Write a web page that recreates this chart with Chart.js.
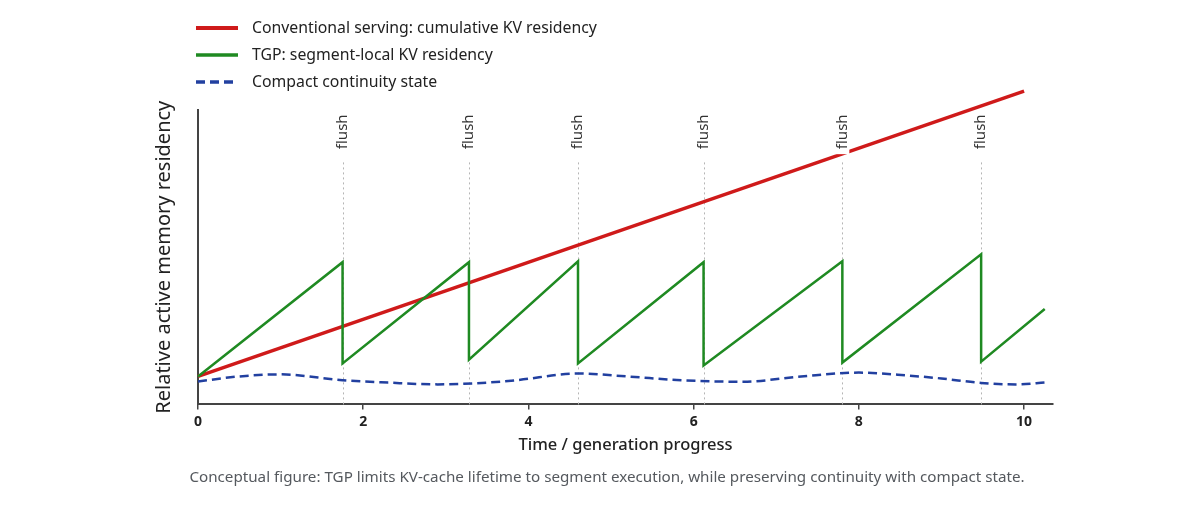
<!DOCTYPE html>
<html lang="en">
<head>
    <meta charset="UTF-8">
    <title>TGP memory residency</title>
    <script src="https://cdn.jsdelivr.net/npm/chart.js"></script>
    <style>
        html, body { margin: 0; padding: 0; background: #fff; }
        #wrap { position: relative; width: 1200px; height: 520px; }
    </style>
</head>
<body>
    <div id="wrap"><canvas id="memChart" width="1200" height="520"></canvas></div>
    <script>
        // values
        const xTicks = [0, 2, 4, 6, 8, 10];
        const flushX = [1.75, 3.28, 4.6, 6.12, 7.8, 9.48];

        const convX = [0, 10];
        const convY = [0.095, 1.064];

        const tgpX = [0, 1.75, 1.75, 3.28, 3.28, 4.6, 4.6, 6.12, 6.12, 7.8, 7.8, 9.48, 9.48, 10.25];
        const tgpY = [0.095, 0.483, 0.139, 0.483, 0.152, 0.486, 0.139, 0.483, 0.132, 0.486, 0.142, 0.510, 0.145, 0.324];

        const stateX = [0, 0.5, 1.0, 1.75, 2.3, 2.9, 3.5, 3.85, 4.6, 5.2, 5.85, 6.6, 7.3, 8.0, 8.6, 9.0, 9.48, 9.9, 10.27];
        const stateY = [0.078, 0.095, 0.102, 0.082, 0.074, 0.068, 0.074, 0.082, 0.105, 0.095, 0.082, 0.077, 0.095, 0.108, 0.098, 0.088, 0.073, 0.068, 0.075];

        const labels = [
            'Conventional serving: cumulative KV residency',
            'TGP: segment-local KV residency',
            'Compact continuity state'
        ];
        const caption = 'Conceptual figure: TGP limits KV-cache lifetime to segment execution, while preserving continuity with compact state.';

        const pts = (xs, ys) => xs.map((x, i) => ({ x: x, y: ys[i] }));

        const FONT = '"Noto Sans", sans-serif';

        const extras = {
            id: 'extras',
            beforeDatasetsDraw(chart) {
                const { ctx, chartArea, scales } = chart;
                ctx.save();
                ctx.strokeStyle = '#b5b5b5';
                ctx.lineWidth = 1;
                ctx.setLineDash([2, 3]);
                flushX.forEach(f => {
                    const px = Math.round(scales.x.getPixelForValue(f)) + 0.5;
                    ctx.beginPath();
                    ctx.moveTo(px, chartArea.bottom);
                    ctx.lineTo(px, scales.y.getPixelForValue(0.83));
                    ctx.stroke();
                });
                ctx.restore();
            },
            afterDatasetsDraw(chart) {
                const { ctx, scales } = chart;
                ctx.save();
                ctx.font = '15px ' + FONT;
                flushX.forEach(f => {
                    const px = scales.x.getPixelForValue(f);
                    const py = scales.y.getPixelForValue(0.926);
                    const w = ctx.measureText('flush').width;
                    ctx.save();
                    ctx.translate(px, py);
                    ctx.rotate(-Math.PI / 2);
                    ctx.fillStyle = '#fff';
                    // white box behind the label, a bit longer on the axis side
                    ctx.fillRect(-w / 2 - 5, -7, w + 6, 14);
                    ctx.fillStyle = '#333';
                    ctx.textAlign = 'center';
                    ctx.textBaseline = 'middle';
                    ctx.fillText('flush', 0, 0);
                    ctx.restore();
                });
                ctx.restore();
            },
            afterDraw(chart) {
                const { ctx } = chart;
                ctx.save();
                // legend
                const rows = [28, 55, 82];
                chart.data.datasets.forEach((ds, i) => {
                    ctx.strokeStyle = ds.borderColor;
                    ctx.lineWidth = i === 0 ? 4 : 3.5;
                    ctx.setLineDash(ds.borderDash || []);
                    ctx.beginPath();
                    ctx.moveTo(196, rows[i]);
                    ctx.lineTo(238, rows[i]);
                    ctx.stroke();
                    ctx.setLineDash([]);
                    ctx.fillStyle = '#222';
                    ctx.font = '15.8px ' + FONT;
                    ctx.textBaseline = 'middle';
                    ctx.fillText(ds.label, 252, rows[i]);
                });
                // caption
                ctx.fillStyle = '#55595e';
                ctx.font = '15.2px ' + FONT;
                ctx.textAlign = 'center';
                ctx.textBaseline = 'middle';
                ctx.fillText(caption, 607, 478);
                ctx.restore();
            }
        };

        const ctx = document.getElementById('memChart').getContext('2d');
        const memChart = new Chart(ctx, {
            type: 'line',
            data: {
                datasets: [
                    {
                        label: labels[0],
                        data: pts(convX, convY),
                        borderColor: '#cf1a1a',
                        borderWidth: 3.5,
                        pointRadius: 0,
                        clip: false,
                        order: 1
                    },
                    {
                        label: labels[1],
                        data: pts(tgpX, tgpY),
                        borderColor: '#1f8a22',
                        borderWidth: 2.5,
                        pointRadius: 0,
                        clip: false,
                        order: 0
                    },
                    {
                        label: labels[2],
                        data: pts(stateX, stateY),
                        borderColor: '#2240a0',
                        borderWidth: 2.5,
                        borderDash: [9, 5],
                        pointRadius: 0,
                        cubicInterpolationMode: 'monotone',
                        tension: 0.4,
                        clip: false,
                        order: 2
                    }
                ]
            },
            options: {
                responsive: false,
                animation: false,
                layout: { padding: { top: 110, left: 148, right: 147, bottom: 61 } },
                plugins: {
                    legend: { display: false },
                    tooltip: { enabled: false }
                },
                scales: {
                    x: {
                        type: 'linear',
                        min: 0,
                        max: 10.35,
                        afterBuildTicks: scale => { scale.ticks = xTicks.map(v => ({ value: v })); },
                        grid: { drawOnChartArea: false, drawTicks: true, tickLength: 5, color: '#444', lineWidth: 1.5 },
                        border: { color: '#444', width: 2 },
                        ticks: { color: '#222', font: { family: FONT, size: 14, weight: 'bold' }, padding: 4 },
                        title: {
                            display: true,
                            text: 'Time / generation progress',
                            color: '#222',
                            font: { family: FONT, size: 16.5, weight: '500' },
                            padding: { top: 1, bottom: 4 }
                        }
                    },
                    y: {
                        min: 0,
                        max: 1,
                        grid: { display: false },
                        border: { color: '#444', width: 2 },
                        ticks: { display: false },
                        title: {
                            display: true,
                            text: 'Relative active memory residency',
                            color: '#222',
                            font: { family: FONT, size: 20 },
                            padding: { top: 4, bottom: 14 }
                        }
                    }
                }
            },
            plugins: [extras]
        });
    </script>
</body>
</html>
